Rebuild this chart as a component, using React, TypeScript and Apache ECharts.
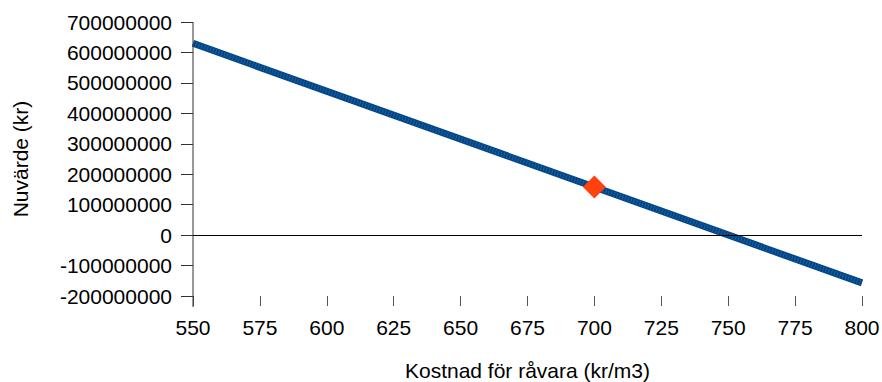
import React, { useEffect, useRef } from "react";
import * as echarts from "echarts";

// Net present value as a function of raw material cost
const costs = [550, 800];
const npv = [630000000, -157000000];
const baseCost = [700];
const baseNpv = [158000000];
const xTicks = [550, 575, 600, 625, 650, 675, 700, 725, 750, 775, 800];
const yMin = -200000000;
const yMax = 700000000;
const yStep = 100000000;

const FONT = "'Liberation Sans', Arial, sans-serif";

export default function App() {
  const ref = useRef<HTMLDivElement>(null);

  useEffect(() => {
    if (!ref.current) return;
    const chart = echarts.init(ref.current, null, { renderer: "svg" });
    const linePoints = costs.map((c, i) => [c, npv[i]]);
    const option: any = {
      animation: false,
      backgroundColor: "#ffffff",
      textStyle: { fontFamily: FONT },
      grid: {
        left: 193,
        right: 20,
        top: 22,
        bottom: 86,
        containLabel: false,
        outerBoundsMode: "none",
      },
      xAxis: {
        type: "value",
        min: xTicks[0],
        max: xTicks[xTicks.length - 1],
        interval: 25,
        name: "Kostnad för råvara (kr/m3)",
        nameLocation: "middle",
        nameGap: 64,
        nameTextStyle: { fontSize: 21, color: "#000", fontFamily: FONT },
        axisLine: { show: false, onZero: false },
        axisTick: { show: true, length: 10, lineStyle: { color: "#555", width: 1 } },
        axisLabel: { fontSize: 21, color: "#000", margin: 21, fontFamily: FONT },
        splitLine: { show: false },
      },
      yAxis: {
        type: "value",
        min: yMin,
        max: yMax,
        interval: yStep,
        name: "Nuvärde (kr)",
        nameLocation: "middle",
        nameGap: 162,
        nameRotate: 90,
        nameTextStyle: { fontSize: 21, color: "#000", fontFamily: FONT },
        axisLine: { show: false },
        axisTick: { show: true, length: 12, lineStyle: { color: "#333", width: 1 } },
        axisLabel: {
          fontSize: 21,
          color: "#000",
          margin: 21,
          fontFamily: FONT,
          formatter: (v: number) => String(v),
        },
        splitLine: { show: false },
      },
      series: [
        {
          type: "line",
          data: linePoints,
          symbol: "none",
          lineStyle: { color: "#004586", width: 7 },
          markLine: {
            silent: true,
            symbol: "none",
            label: { show: false },
            lineStyle: { color: "#000", width: 1, type: "solid" },
            data: [{ yAxis: 0 }],
          },
          z: 2,
        },
        {
          // fine hatch texture along the thick line
          type: "line",
          data: linePoints,
          symbol: "none",
          lineStyle: { color: "#2f6aa3", width: 5, type: [1, 2], opacity: 0.7 },
          z: 2,
        },
        {
          type: "scatter",
          data: baseCost.map((c, i) => [c, baseNpv[i]]),
          symbol: "diamond",
          symbolSize: [23, 23],
          itemStyle: { color: "#ff420e", opacity: 1 },
          z: 3,
        },
      ],
    };
    chart.setOption(option);

    // Vertical axis line runs a little past the lowest tick
    const top = chart.convertToPixel({ gridIndex: 0 }, [xTicks[0], yMax]);
    const bottom = chart.convertToPixel({ gridIndex: 0 }, [xTicks[0], yMin]);
    chart.setOption({
      graphic: [
        {
          type: "line",
          shape: { x1: top[0], y1: top[1], x2: bottom[0], y2: bottom[1] + 11 },
          style: { stroke: "#333", lineWidth: 1 },
          z: 5,
        },
      ],
    });

    return () => chart.dispose();
  }, []);

  return (
    <div
      ref={ref}
      style={{ position: "fixed", left: 0, top: 0, width: 882, height: 382 }}
    />
  );
}
